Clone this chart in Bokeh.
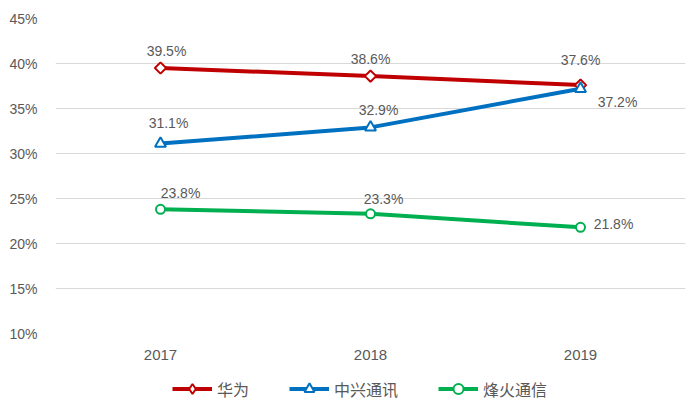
import math
from bokeh.plotting import figure
from bokeh.layouts import column
from bokeh.models import Range1d, FactorRange, Legend, LegendItem, ColumnDataSource, FixedTicker
from bokeh.core.properties import value
from bokeh.embed import file_html
from bokeh.resources import INLINE

years = ["2017", "2018", "2019"]
huawei = [39.5, 38.6, 37.6]
zte = [31.1, 32.9, 37.2]
fiberhome = [23.8, 23.3, 21.8]
series_names = ["华为", "中兴通讯", "烽火通信"]
y_ticks = [10, 15, 20, 25, 30, 35, 40, 45]
y_tick_labels = ["10%", "15%", "20%", "25%", "30%", "35%", "40%", "45%"]

NUM_FONT = "Liberation Sans"
CJK_FONT = "Noto Sans CJK SC"
GRAY = "#595959"
W = 692

p = figure(width=W, height=365, x_range=FactorRange(*years, range_padding=0),
           y_range=Range1d(10, 45), output_backend="svg", toolbar_location=None,
           min_border_left=55, min_border_right=W - 685, min_border_top=18, min_border_bottom=32)
p.outline_line_color = None
p.background_fill_color = "white"
p.xgrid.grid_line_color = None
p.ygrid.grid_line_color = "#d9d9d9"
p.ygrid.grid_line_width = 1

p.yaxis.ticker = FixedTicker(ticks=y_ticks)
p.yaxis.major_label_overrides = {t: l for t, l in zip(y_ticks, y_tick_labels)}
for ax in (p.xaxis[0], p.yaxis[0]):
    ax.axis_line_color = None
    ax.major_tick_line_color = None
    ax.minor_tick_line_color = None
    ax.major_label_text_font = NUM_FONT
    ax.major_label_text_color = GRAY
p.yaxis.major_label_text_font_size = "14px"
p.xaxis.major_label_text_font_size = "15px"
p.yaxis.major_label_standoff = 12
p.xaxis.major_label_standoff = 10

colors = ["#C00000", "#0070C0", "#00B050"]
markers = ["square", "triangle", "circle"]
legend_markers = ["diamond", "triangle", "circle"]
angles = [math.pi / 4, 0, 0]
sizes = [8, 11, 9]
data = [huawei, zte, fiberhome]
# per-point label offsets (pixels)
offsets = [
    ([6, 0, 0], [-17, -17, -25]),
    ([8, 8, 37], [-21, -17, 13]),
    ([20, 13, 33], [-16, -15, -3]),
]

# legend strip below the chart; its renderers use the same data but lie outside its view
legend_fig = figure(width=W, height=40, x_range=FactorRange(*years), y_range=Range1d(0, 1),
                    output_backend="svg", toolbar_location=None,
                    x_axis_location=None, y_axis_location=None,
                    min_border_left=0, min_border_right=0, min_border_top=0, min_border_bottom=0)
legend_fig.grid.visible = False
legend_fig.outline_line_color = None

items = []
for name, c, m, lm, a, s, d, (xo, yo) in zip(series_names, colors, markers, legend_markers,
                                              angles, sizes, data, offsets):
    src = ColumnDataSource(dict(x=years, y=d, lbl=[f"{v:.1f}%" for v in d], xo=xo, yo=yo))
    p.line("x", "y", source=src, line_color=c, line_width=4)
    p.scatter("x", "y", source=src, marker=m, angle=a, size=s, line_color=c, line_width=2,
              fill_color="white")
    p.text("x", "y", text="lbl", source=src, x_offset="xo", y_offset="yo",
           text_font=value(NUM_FONT), text_font_size="14px", text_color=GRAY,
           text_align="center", text_baseline="middle")
    lsrc = ColumnDataSource(dict(x=years, y=d))
    l1 = legend_fig.line("x", "y", source=lsrc, line_color=c, line_width=4)
    l2 = legend_fig.scatter("x", "y", source=lsrc, marker=lm, size=s, line_color=c,
                            line_width=2, fill_color="white")
    items.append(LegendItem(label=name, renderers=[l1, l2]))

legend = Legend(items=items, orientation="horizontal", location=(117, 4),
                label_text_font=CJK_FONT, label_text_font_size="16px",
                label_text_color=GRAY, glyph_width=40, glyph_height=25,
                spacing=40, label_standoff=5, border_line_color=None,
                background_fill_alpha=0, padding=4, margin=0)
legend_fig.add_layout(legend, "center")

layout = column(p, legend_fig, spacing=0)
open("out.html", "w").write(file_html(layout, INLINE))
